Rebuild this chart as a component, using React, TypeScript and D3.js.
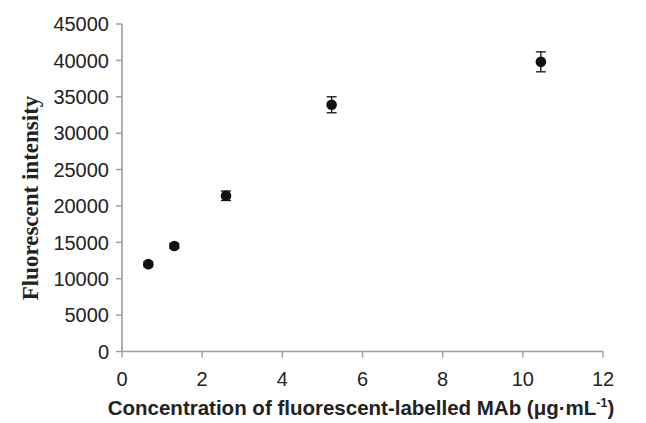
import React from "react";
import * as d3 from "d3";

const concentrations = [0.656, 1.305, 2.595, 5.23, 10.45];
const intensities = [12000, 14500, 21400, 33900, 39800];
const errors = [350, 350, 650, 1100, 1370];
const xTicks = [0, 2, 4, 6, 8, 10, 12];
const yTicks = [0, 5000, 10000, 15000, 20000, 25000, 30000, 35000, 40000, 45000];

const W = 646;
const H = 423;
const left = 122;
const right = 603;
const top = 24;
const bottom = 351.5;

export default function App() {
  const x = d3.scaleLinear().domain([0, 12]).range([left, right]);
  const y = d3.scaleLinear().domain([0, 45000]).range([bottom, top]);
  const sans = "'Liberation Sans', Arial, Helvetica, sans-serif";
  const serif = "'Liberation Serif', 'Times New Roman', serif";
  const axisColor = "#9a9a9a";
  return (
    <svg width={W} height={H} style={{ position: "absolute", left: 0, top: 0, background: "#fff" }}>
      <rect x={0} y={0} width={W} height={H} fill="#fff" />
      {/* y axis */}
      <line x1={left} x2={left} y1={top} y2={bottom} stroke={axisColor} strokeWidth={1.6} />
      {yTicks.map((t) => (
        <g key={"y" + t}>
          <line x1={left - 6} x2={left} y1={y(t)} y2={y(t)} stroke={axisColor} strokeWidth={1.4} />
          <text x={109} y={y(t)} dy="0.36em" textAnchor="end" fontFamily={sans} fontSize={20} fill="#222">
            {t}
          </text>
        </g>
      ))}
      {/* x axis */}
      <line x1={left} x2={right} y1={bottom} y2={bottom} stroke={axisColor} strokeWidth={1.6} />
      {xTicks.map((t) => (
        <g key={"x" + t}>
          <line x1={x(t)} x2={x(t)} y1={bottom} y2={bottom + 6} stroke={axisColor} strokeWidth={1.4} />
          <text x={x(t)} y={386} textAnchor="middle" fontFamily={sans} fontSize={20} fill="#222">
            {t}
          </text>
        </g>
      ))}
      {/* error bars and points */}
      {concentrations.map((c, i) => {
        const cx = x(c);
        const yt = y(intensities[i] + errors[i]);
        const yb = y(intensities[i] - errors[i]);
        return (
          <g key={"p" + i}>
            <line x1={cx} x2={cx} y1={yt} y2={yb} stroke="#111" strokeWidth={1.3} />
            <line x1={cx - 5} x2={cx + 5} y1={yt} y2={yt} stroke="#111" strokeWidth={1.3} />
            <line x1={cx - 5} x2={cx + 5} y1={yb} y2={yb} stroke="#111" strokeWidth={1.3} />
            <circle cx={cx} cy={y(intensities[i])} r={5.3} fill="#111" />
          </g>
        );
      })}
      {/* axis titles */}
      <text x={361} y={415} textAnchor="middle" fontFamily={sans} fontWeight="bold" fontSize={20.5} fill="#222">
        Concentration of fluorescent-labelled MAb (μg·mL
        <tspan fontSize={12.5} dy={-8}>-1</tspan>
        <tspan dy={8}>)</tspan>
      </text>
      <text
        transform={`translate(38,198) rotate(-90)`}
        textAnchor="middle"
        fontFamily={serif}
        fontWeight="bold"
        fontSize={23}
        fill="#222"
      >
        Fluorescent intensity
      </text>
    </svg>
  );
}
